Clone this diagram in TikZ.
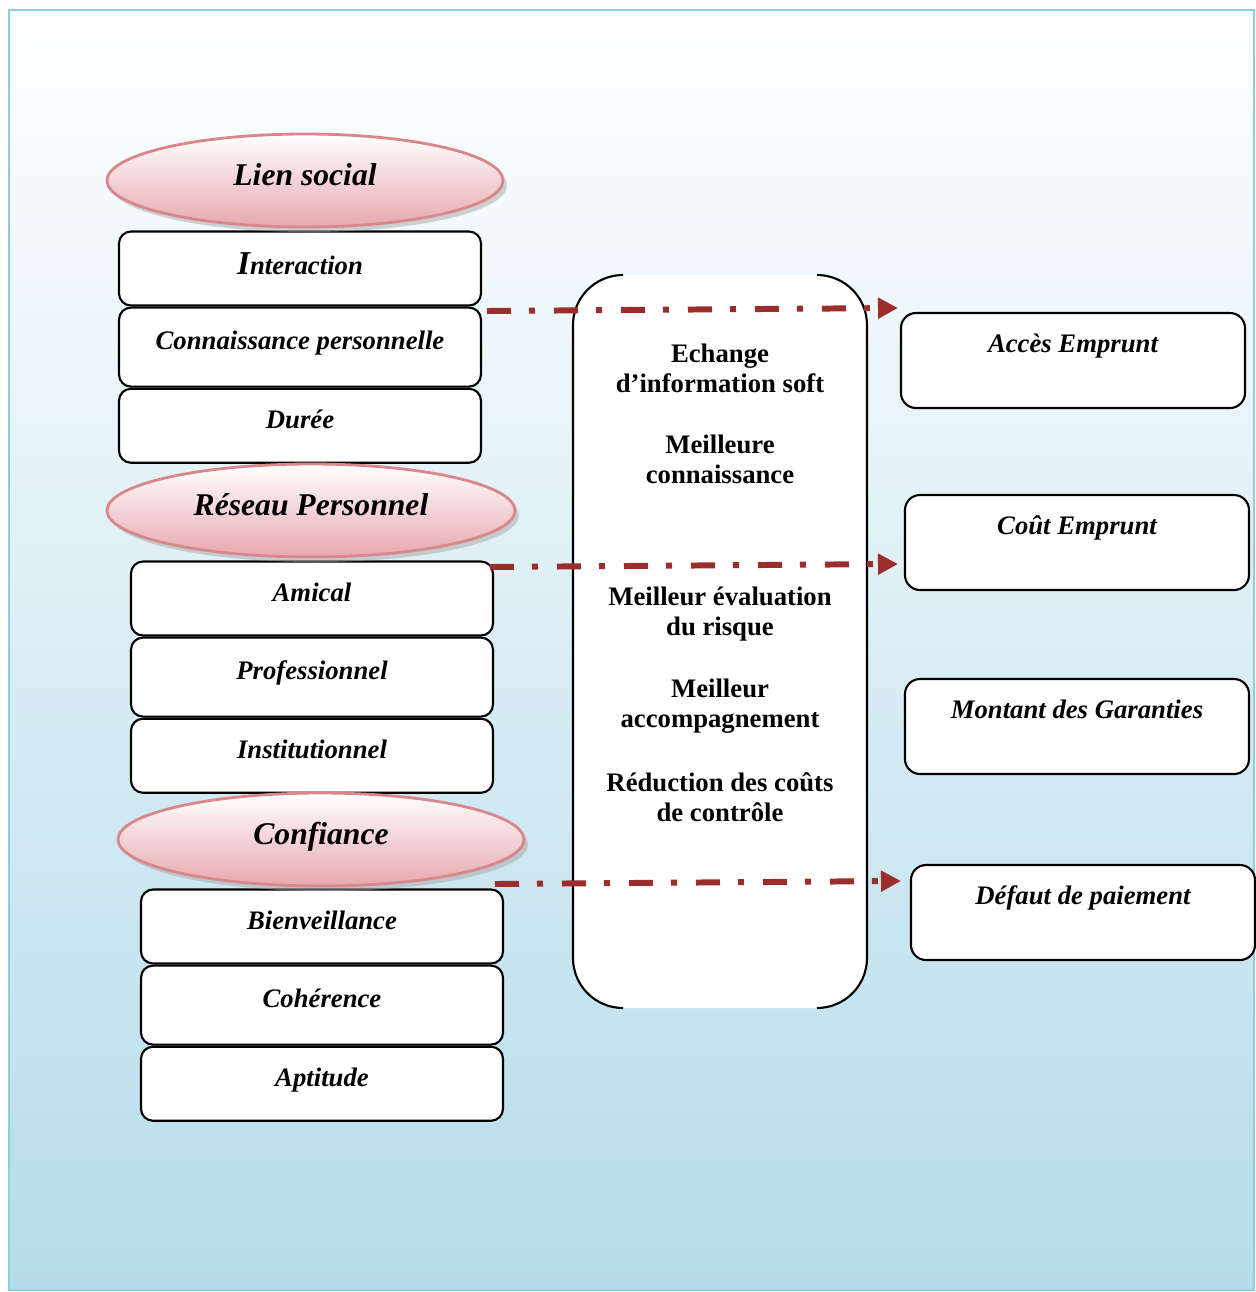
\documentclass[tikz,border=0pt]{standalone}
\usepackage{fontspec}
\setmainfont{Liberation Serif}
\usetikzlibrary{shapes.geometric,arrows.meta,shadows,positioning}

\definecolor{fond}{RGB}{181,220,234}
\definecolor{cadre}{RGB}{140,205,222}
\definecolor{rose}{RGB}{230,168,174}
\definecolor{bordrose}{RGB}{218,135,140}
\definecolor{fleche}{RGB}{155,45,45}

\begin{document}
\begin{tikzpicture}[y=-1cm,
	titre/.style={ellipse, draw=bordrose, thick, top color=white, bottom color=rose, minimum width=3.96cm, minimum height=0.93cm, text height=0.24cm, text depth=0.14cm, font=\bfseries\itshape\fontsize{9}{10}\selectfont, drop shadow={shadow xshift=0.04cm, shadow yshift=-0.05cm, fill=black!35}},
	critere/.style={draw, semithick, fill=white, rounded corners=0.12cm, minimum width=3.62cm, minimum height=0.74cm, text height=0.2cm, text depth=0.15cm, font=\bfseries\itshape\fontsize{7.6}{9}\selectfont},
	effet/.style={draw, semithick, fill=white, rounded corners=0.15cm, minimum width=3.44cm, minimum height=0.95cm, text height=0.2cm, text depth=0.36cm, font=\bfseries\itshape\fontsize{7.6}{9}\selectfont},
	canal/.style={align=center, font=\bfseries\fontsize{7.6}{8.6}\selectfont},
	lien/.style={fleche, line width=1.7pt, dash pattern=on 0.24cm off 0.18cm on 0.06cm off 0.19cm, -{Triangle[length=0.2cm, width=0.2cm]}}]

	\useasboundingbox (0,0) rectangle (12.56,12.92);
	\shade[top color=white, middle color=fond!45, bottom color=fond] (0.09,0.10) rectangle (12.54,12.90);
	\draw[cadre, semithick] (0.09,0.10) rectangle (12.54,12.90);

	% colonne de gauche
	\node[critere, text depth=0.08cm]			(interaction)		at (3.00,2.685) {{\fontsize{9.5}{9}\selectfont I}nteraction};
	\node[critere, below=0cm of interaction, minimum height=0.79cm]	(connaissance)	{Connaissance personnelle};
	\node[critere, below=0cm of connaissance]	(duree)				{Durée};
	\node[critere]								(amical)			at (3.12,5.985) {Amical};
	\node[critere, below=0cm of amical, minimum height=0.79cm]		(professionnel)	{Professionnel};
	\node[critere, below=0cm of professionnel]	(institutionnel)	{Institutionnel};
	\node[critere]								(bienveillance)		at (3.22,9.265) {Bienveillance};
	\node[critere, below=0cm of bienveillance, minimum height=0.79cm]	(coherence)		{Cohérence};
	\node[critere, below=0cm of coherence]		(aptitude)			{Aptitude};

	\node[titre]								(liensocial)		at (3.05,1.805) {Lien social};
	\node[titre, minimum width=4.08cm]			(reseau)			at (3.11,5.105) {Réseau Personnel};
	\node[titre, minimum width=4.06cm]			(confiance)			at (3.21,8.395) {Confiance};

	% bloc central
	\node[fill=white, rounded corners=0.5cm, minimum width=2.94cm, minimum height=7.33cm]	(milieu)	at (7.20,6.415) {};
	\draw[semithick, rounded corners=0.5cm] (6.23,2.75) -- (5.73,2.75) -- (5.73,10.08) -- (6.23,10.08);
	\draw[semithick, rounded corners=0.5cm] (8.17,2.75) -- (8.67,2.75) -- (8.67,10.08) -- (8.17,10.08);

	\node[canal]	(echange)			at (7.20,3.68) {Echange\\d’information soft};
	\node[canal]	(meilleure)			at (7.20,4.59) {Meilleure\\connaissance};
	\node[canal]	(evaluation)		at (7.20,6.14) {Meilleur évaluation\\du risque};
	\node[canal]	(accompagnement)	at (7.20,7.06) {Meilleur\\accompagnement};
	\node[canal]	(reduction)			at (7.20,7.97) {Réduction des coûts\\de contrôle};

	% colonne de droite
	\node[effet]	(acces)		at (10.73,3.605) {Accès Emprunt};
	\node[effet]	(cout)		at (10.77,5.425) {Coût Emprunt};
	\node[effet]	(montant)	at (10.77,7.265) {Montant des Garanties};
	\node[effet]	(defaut)	at (10.83,9.125) {Défaut de paiement};

	% fleches
	\coordinate (depart1)	at (4.87,3.11);
	\coordinate (fin1)		at (8.98,3.08);
	\coordinate (depart2)	at (4.90,5.67);
	\coordinate (fin2)		at (8.98,5.64);
	\coordinate (depart3)	at (4.95,8.84);
	\coordinate (fin3)		at (9.01,8.81);

	\path
	(depart1)	edge[lien]	(fin1)
	(depart2)	edge[lien]	(fin2)
	(depart3)	edge[lien]	(fin3);
\end{tikzpicture}
\end{document}
